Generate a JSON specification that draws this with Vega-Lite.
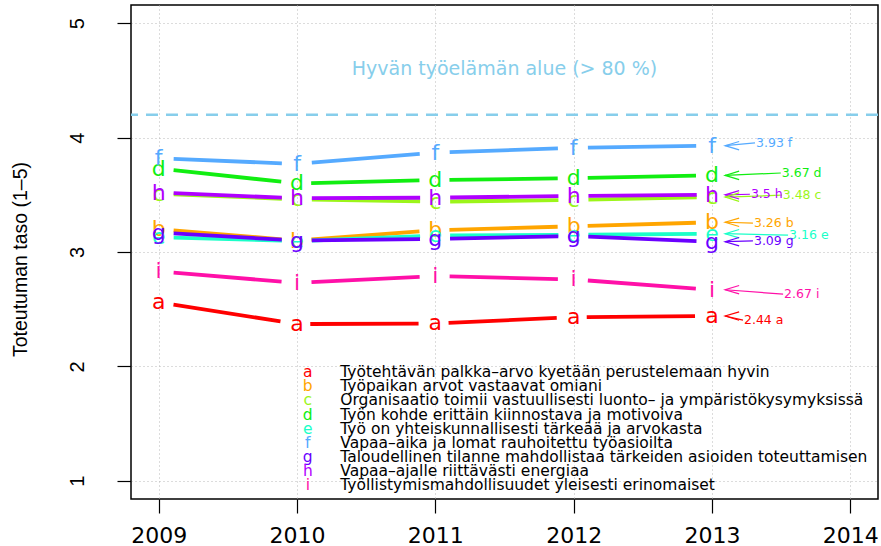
{
  "$schema": "https://vega.github.io/schema/vega-lite/v6.json",
  "width": 747,
  "height": 494,
  "autosize": {"type": "none"},
  "padding": {"left": 131, "top": 5, "right": 3, "bottom": 47},
  "background": "white",
  "config": {
    "view": {"stroke": "#000000", "strokeWidth": 1.5},
    "font": "DejaVu Sans"
  },
  "datasets": {
    "series": [
      {"year": 2009, "value": 2.56, "s": "a"}, {"year": 2010, "value": 2.37, "s": "a"}, {"year": 2011, "value": 2.375, "s": "a"}, {"year": 2012, "value": 2.43, "s": "a"}, {"year": 2013, "value": 2.44, "s": "a"},
      {"year": 2009, "value": 3.2, "s": "b"}, {"year": 2010, "value": 3.1, "s": "b"}, {"year": 2011, "value": 3.19, "s": "b"}, {"year": 2012, "value": 3.225, "s": "b"}, {"year": 2013, "value": 3.26, "s": "b"},
      {"year": 2009, "value": 3.51, "s": "c"}, {"year": 2010, "value": 3.46, "s": "c"}, {"year": 2011, "value": 3.44, "s": "c"}, {"year": 2012, "value": 3.455, "s": "c"}, {"year": 2013, "value": 3.48, "s": "c"},
      {"year": 2009, "value": 3.73, "s": "d"}, {"year": 2010, "value": 3.6, "s": "d"}, {"year": 2011, "value": 3.63, "s": "d"}, {"year": 2012, "value": 3.645, "s": "d"}, {"year": 2013, "value": 3.67, "s": "d"},
      {"year": 2009, "value": 3.13, "s": "e"}, {"year": 2010, "value": 3.095, "s": "e"}, {"year": 2011, "value": 3.145, "s": "e"}, {"year": 2012, "value": 3.15, "s": "e"}, {"year": 2013, "value": 3.16, "s": "e"},
      {"year": 2009, "value": 3.82, "s": "f"}, {"year": 2010, "value": 3.77, "s": "f"}, {"year": 2011, "value": 3.87, "s": "f"}, {"year": 2012, "value": 3.91, "s": "f"}, {"year": 2013, "value": 3.93, "s": "f"},
      {"year": 2009, "value": 3.17, "s": "g"}, {"year": 2010, "value": 3.1, "s": "g"}, {"year": 2011, "value": 3.115, "s": "g"}, {"year": 2012, "value": 3.14, "s": "g"}, {"year": 2013, "value": 3.09, "s": "g"},
      {"year": 2009, "value": 3.52, "s": "h"}, {"year": 2010, "value": 3.47, "s": "h"}, {"year": 2011, "value": 3.475, "s": "h"}, {"year": 2012, "value": 3.49, "s": "h"}, {"year": 2013, "value": 3.5, "s": "h"},
      {"year": 2009, "value": 2.83, "s": "i"}, {"year": 2010, "value": 2.73, "s": "i"}, {"year": 2011, "value": 2.79, "s": "i"}, {"year": 2012, "value": 2.76, "s": "i"}, {"year": 2013, "value": 2.67, "s": "i"}
    ],
    "ann": [
      {"s": "f", "lab": "3.93 f", "lx": 2013.311, "ly": 3.954, "ty": 3.93},
      {"s": "d", "lab": "3.67 d", "lx": 2013.497, "ly": 3.691, "ty": 3.67},
      {"s": "h", "lab": "3.5 h", "lx": 2013.274, "ly": 3.505, "ty": 3.5},
      {"s": "c", "lab": "3.48 c", "lx": 2013.504, "ly": 3.497, "ty": 3.48},
      {"s": "b", "lab": "3.26 b", "lx": 2013.296, "ly": 3.252, "ty": 3.26},
      {"s": "e", "lab": "3.16 e", "lx": 2013.55, "ly": 3.147, "ty": 3.16},
      {"s": "g", "lab": "3.09 g", "lx": 2013.296, "ly": 3.097, "ty": 3.09},
      {"s": "i", "lab": "2.67 i", "lx": 2013.514, "ly": 2.631, "ty": 2.67},
      {"s": "a", "lab": "2.44 a", "lx": 2013.224, "ly": 2.404, "ty": 2.44}
    ],
    "leg": [
      {"r": 0, "s": "a", "desc": "Työtehtävän palkka–arvo kyetään perustelemaan hyvin"},
      {"r": 1, "s": "b", "desc": "Työpaikan arvot vastaavat omiani"},
      {"r": 2, "s": "c", "desc": "Organisaatio toimii vastuullisesti luonto– ja ympäristökysymyksissä"},
      {"r": 3, "s": "d", "desc": "Työn kohde erittäin kiinnostava ja motivoiva"},
      {"r": 4, "s": "e", "desc": "Työ on yhteiskunnallisesti tärkeää ja arvokasta"},
      {"r": 5, "s": "f", "desc": "Vapaa–aika ja lomat rauhoitettu työasioilta"},
      {"r": 6, "s": "g", "desc": "Taloudellinen tilanne mahdollistaa tärkeiden asioiden toteuttamisen"},
      {"r": 7, "s": "h", "desc": "Vapaa–ajalle riittävästi energiaa"},
      {"r": 8, "s": "i", "desc": "Työllistymismahdollisuudet yleisesti erinomaiset"}
    ],
    "note": [{"t": "Hyvän työelämän alue (> 80 %)", "x": 2011.5, "y": 4.6, "ref": 4.2}]
  },
  "layer": [
    {
      "layer": [
        {
          "data": {"name": "series"},
          "mark": {"type": "line", "strokeWidth": 3.8, "strokeDash": [108.3, 30], "strokeDashOffset": 123.3},
          "encoding": {
            "x": {
              "field": "year", "type": "quantitative",
              "scale": {"domain": [2008.8, 2014.2], "nice": false, "zero": false},
              "axis": {
                "values": [2009, 2010, 2011, 2012, 2013, 2014], "format": "d", "title": null,
                "domain": false, "ticks": true, "tickSize": 14, "tickColor": "#000000", "tickWidth": 1.2,
                "labelFontSize": 22, "labelColor": "#000000", "labelPadding": 12, "labelFont": "DejaVu Sans",
                "grid": true, "gridColor": "#b8b8b8", "gridDash": [1, 3], "gridWidth": 1
              }
            },
            "y": {
              "field": "value", "type": "quantitative",
              "scale": {"domain": [0.84, 5.16], "nice": false, "zero": false},
              "axis": {
                "values": [1, 2, 3, 4, 5], "format": "d",
                "title": "Toteutuman taso (1–5)", "titleFont": "Liberation Sans", "titleFontSize": 19.5, "titleFontWeight": "normal", "titleColor": "#000000",
                "titleAngle": -90, "titleX": -105, "titleY": 254, "titleAlign": "center", "titleBaseline": "alphabetic",
                "domain": false, "ticks": true, "tickSize": 14, "tickColor": "#000000", "tickWidth": 1.2,
                "labelFont": "Liberation Sans", "labelFontSize": 20, "labelColor": "#000000", "labelAngle": -90, "labelAlign": "center", "labelBaseline": "alphabetic", "labelPadding": 34,
                "grid": true, "gridColor": "#b8b8b8", "gridDash": [1, 3], "gridWidth": 1
              }
            },
            "color": {
              "field": "s", "type": "nominal",
              "scale": {"domain": ["a", "b", "c", "d", "e", "f", "g", "h", "i"], "range": ["#ff0000", "#ffa500", "#9cf51a", "#11ee11", "#1affc8", "#55aaff", "#6a00ff", "#b000ff", "#ff10a8"]},
              "legend": null
            }
          }
        },
        {
          "data": {"name": "note"},
          "mark": {"type": "rule", "color": "#87ceeb", "strokeWidth": 2.5, "strokeDash": [12, 8]},
          "encoding": {"y": {"field": "ref", "type": "quantitative"}}
        },
        {
          "data": {"name": "note"},
          "mark": {"type": "text", "fontSize": 19, "color": "#87ceeb", "align": "center", "baseline": "middle"},
          "encoding": {
            "x": {"field": "x", "type": "quantitative"},
            "y": {"field": "y", "type": "quantitative"},
            "text": {"field": "t"}
          }
        },
        {
          "data": {"name": "series"},
          "mark": {"type": "text", "fontSize": 22, "align": "center", "baseline": "middle"},
          "encoding": {
            "x": {"field": "year", "type": "quantitative"},
            "y": {"field": "value", "type": "quantitative"},
            "text": {"field": "s"},
            "color": {"field": "s", "type": "nominal", "legend": null}
          }
        },
        {
          "data": {"name": "ann"},
          "mark": {"type": "rule", "strokeWidth": 1.2},
          "encoding": {
            "x": {"field": "lx", "type": "quantitative"},
            "x2": {"datum": 2013.095},
            "y": {"field": "ly", "type": "quantitative"},
            "y2": {"field": "ty"},
            "color": {"field": "s", "type": "nominal", "legend": null}
          }
        },
        {
          "data": {"name": "ann"},
          "mark": {"type": "point", "shape": "M2,-0.6L0,0L2,0.6", "filled": false, "size": 196, "strokeWidth": 1.2, "opacity": 1},
          "encoding": {
            "x": {"datum": 2013.095},
            "y": {"field": "ty", "type": "quantitative"},
            "color": {"field": "s", "type": "nominal", "legend": null}
          }
        },
        {
          "data": {"name": "ann"},
          "mark": {"type": "text", "fontSize": 12.5, "align": "left", "baseline": "middle", "dx": 1},
          "encoding": {
            "x": {"field": "lx", "type": "quantitative"},
            "y": {"field": "ly", "type": "quantitative"},
            "text": {"field": "lab"},
            "color": {"field": "s", "type": "nominal", "legend": null}
          }
        }
      ]
    },
    {
      "data": {"name": "leg"},
      "layer": [
        {
          "mark": {"type": "text", "fontSize": 15.5, "align": "center", "baseline": "middle"},
          "encoding": {
            "x": {"datum": 2010.078},
            "y": {"field": "r", "type": "quantitative", "scale": {"domain": [-26.05, 8.99], "reverse": true, "nice": false, "zero": false}, "axis": null},
            "text": {"field": "s"},
            "color": {"field": "s", "type": "nominal", "legend": null}
          }
        },
        {
          "mark": {"type": "text", "fontSize": 15.5, "align": "left", "baseline": "middle", "color": "#000000"},
          "encoding": {
            "x": {"datum": 2010.313},
            "y": {"field": "r", "type": "quantitative", "axis": null},
            "text": {"field": "desc"}
          }
        }
      ]
    }
  ],
  "resolve": {"scale": {"y": "independent"}}
}
